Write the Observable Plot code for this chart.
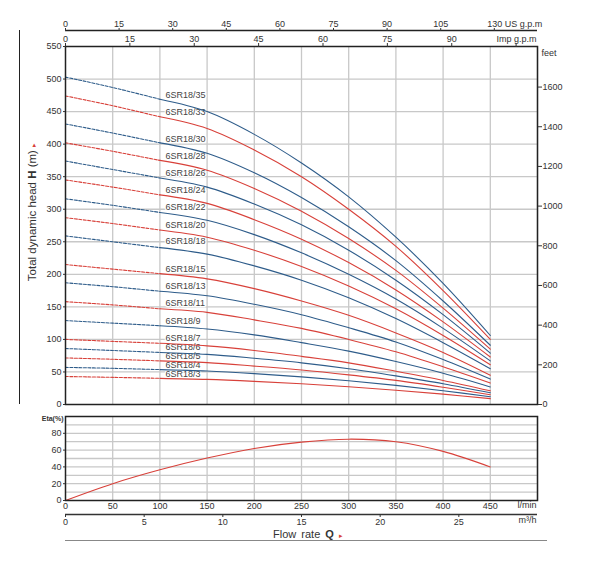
<!DOCTYPE html>
<html><head><meta charset="utf-8">
<script src="https://cdn.jsdelivr.net/npm/d3@7"></script>
<script src="https://cdn.jsdelivr.net/npm/@observablehq/plot@0.6"></script>
<style>
body{margin:0;background:#fff;font-family:"Liberation Sans",Arial,sans-serif;}
#wrap{position:relative;width:597px;height:566px;overflow:hidden;background:#fff;}
#wrap > .p{position:absolute;left:0;top:0;}
#ylab{position:absolute;left:32px;top:212px;transform:translate(-50%,-50%) rotate(-90deg);white-space:nowrap;font-size:11.5px;color:#333;}
#xlab{position:absolute;left:308px;top:534px;transform:translate(-50%,-50%);white-space:nowrap;font-size:11px;color:#333;word-spacing:2px;}
.tri{color:#d8413a;font-size:7px;}
#vline{position:absolute;left:19px;top:30px;height:374px;border-left:1.5px solid #222;}
#hline{position:absolute;left:65px;top:540px;width:482px;border-top:1.5px solid #888;}
</style></head><body><div id="wrap">
<div id="vline"></div><div id="hline"></div>
<div id="ylab">Total dynamic head <b>H</b> (m) <span class="tri">&#9656;</span></div>
<div id="xlab">Flow rate <b>Q</b> <span class="tri">&#9656;</span></div>
</div>
<script>
// ---- data ----
const flowLmin = [0, 50, 100, 150, 200, 250, 300, 350, 400, 450];
const models = ["6SR18/35","6SR18/33","6SR18/30","6SR18/28","6SR18/26","6SR18/24","6SR18/22","6SR18/20","6SR18/18","6SR18/15","6SR18/13","6SR18/11","6SR18/9","6SR18/7","6SR18/6","6SR18/5","6SR18/4","6SR18/3"];
const h35 = [503, 487, 469, 450, 415, 371, 319, 257, 186, 106];
const h33 = [474, 459, 442, 424, 391, 350, 300, 243, 175, 100];
const h30 = [431, 417, 402, 386, 356, 318, 273, 221, 159, 91];
const h28 = [402, 389, 375, 360, 332, 297, 255, 206, 148, 85];
const h26 = [374, 361, 348, 334, 308, 276, 237, 191, 138, 79];
const h24 = [345, 334, 322, 309, 284, 254, 218, 176, 127, 73];
const h22 = [316, 306, 295, 283, 261, 233, 200, 162, 117, 67];
const h20 = [287, 278, 268, 257, 237, 212, 182, 147, 106, 61];
const h18 = [259, 250, 241, 231, 213, 191, 164, 132, 95, 55];
const h15 = [215, 208, 201, 193, 178, 159, 137, 110, 80, 45];
const h13 = [187, 181, 174, 167, 154, 138, 118, 96, 69, 39];
const h11 = [158, 153, 147, 141.5, 130, 117, 100, 81, 58, 33];
const h9  = [129, 125, 121, 116, 107, 95, 82, 66, 48, 27];
const h7  = [100, 97, 94, 90, 83, 74, 64, 51, 37, 21];
const h6  = [86, 83, 80, 77, 71, 64, 55, 44, 32, 18];
const h5  = [71.5, 69.5, 67, 64.3, 59, 53, 45.5, 37, 26.5, 15];
const h4  = [57, 55.6, 53.6, 51.4, 47.4, 42.4, 36.4, 29.4, 21.2, 12];
const h3  = [43, 41.7, 40.2, 38.6, 35.6, 31.8, 27.3, 22, 15.9, 9];
const heads = [h35,h33,h30,h28,h26,h24,h22,h20,h18,h15,h13,h11,h9,h7,h6,h5,h4,h3];
const curveColors = ["#2e5c8a","#d8413a"]; // alternating blue / red
const labelHeads = [475, 449, 407, 381, 355, 329, 303, 276, 251, 208, 182, 155, 128, 102, 88, 74, 60, 46];
const labelFlow = 106;
const dashEnd = 100;
const eta = [0, 20, 36.5, 50.5, 62, 69.5, 73, 70, 58.5, 40];

const gridQ = [50,100,150,200,250,300,350,400,450,500];
const gridH = [50,100,150,200,250,300,350,400,450,500];
const headTicks = [0,50,100,150,200,250,300,350,400,450,500,550];
const feetTicks = [0,200,400,600,800,1000,1200,1400,1600];
const usTicks = [0,15,30,45,60,75,90,105,120];
const usLabels = ["0","15","30","45","60","75","90","105",""];
const impTicks = [0,15,30,45,60,75,90,105];
const impLabels = ["0","15","30","45","60","75","90",""];
const flowTicks = [0,50,100,150,200,250,300,350,400,450];
const m3Ticks = [0,5,10,15,20,25];
const etaTicks = [0,20,40,60,80];
const etaGrid = [10,20,30,40,50,60,70,80,90];

// ---- conversions ----
const US = 3.78541, IMP = 4.54609, FT = 0.3048, M3 = 1000/60;

const rows = [];
models.forEach((m, i) => flowLmin.forEach((q, j) => rows.push({model: m, q, h: heads[i][j], color: curveColors[i % 2]})));
const dashRows = rows.filter(d => d.q <= dashEnd);
const solidRows = rows.filter(d => d.q >= dashEnd);
const labelRows = models.map((m, i) => ({model: m, q: labelFlow, h: labelHeads[i]}));
const etaRows = flowLmin.map((q, i) => ({q, eta: eta[i]}));

const font = "Liberation Sans, Arial, sans-serif";
const style = {fontFamily: font, fontSize: "9px", color: "#333", background: "none", overflow: "visible"};
const common = {width: 597, marginLeft: 65, marginRight: 60, x: {domain: [0, 500], axis: null}, style};
const gridStyle = {stroke: "#c8c8c8", strokeOpacity: 1, strokeWidth: 1.3};
const lookup = (ticks, labels, k) => d => { const i = ticks.findIndex(v => Math.abs(v * k - d) < 1e-6); return i < 0 ? "" : labels[i]; };

const usPlot = Plot.plot({...common, height: 40, marginTop: 30, marginBottom: 10,
  y: {domain: [0, 1], axis: null},
  marks: [
    Plot.ruleY([1], {stroke: "#222", strokeWidth: 1.3}),
    Plot.axisX(usTicks.map(v => v * US), {anchor: "top", tickSize: 3, tickPadding: 1, tickFormat: lookup(usTicks, usLabels, US), label: null}),
    Plot.text(["130 US g.p.m"], {x: 120 * US, text: d => d, frameAnchor: "top", textAnchor: "start", lineAnchor: "bottom", dx: -7, dy: -4})
  ]});

const mainPlot = Plot.plot({...common, height: 412, marginTop: 46, marginBottom: 8,
  y: {domain: [0, 550], axis: null}, color: {type: "identity"},
  marks: [
    Plot.gridX(gridQ, gridStyle),
    Plot.gridY(gridH, gridStyle),
    Plot.text(labelRows, {x: "q", y: "h", text: "model", textAnchor: "start", fill: "#444", stroke: "white", strokeWidth: 2.5, fontSize: 9}),
    Plot.line(dashRows, {x: "q", y: "h", z: "model", stroke: "color", strokeWidth: 1.1, strokeDasharray: "3,1.5", curve: "catmull-rom"}),
    Plot.line(solidRows, {x: "q", y: "h", z: "model", stroke: "color", strokeWidth: 1.1, curve: "catmull-rom"}),
    Plot.frame({stroke: "#222", strokeWidth: 1.5}),
    Plot.axisY(headTicks, {anchor: "left", tickSize: 2, tickPadding: 2, label: null}),
    Plot.axisY(feetTicks.map(f => f * FT), {anchor: "right", tickSize: 4, tickPadding: 1, tickFormat: d => String(Math.round(d / FT)), label: null}),
    Plot.axisX(impTicks.map(v => v * IMP), {anchor: "top", tickSize: 4, tickPadding: 1, tickFormat: lookup(impTicks, impLabels, IMP), label: null}),
    Plot.text(["Imp g.p.m"], {text: d => d, frameAnchor: "top-right", textAnchor: "end", lineAnchor: "bottom", dx: -1, dy: -5}),
    Plot.text(["feet"], {text: d => d, frameAnchor: "top-right", textAnchor: "start", dx: 4, dy: 3})
  ]});

const etaPlot = Plot.plot({...common, height: 566, marginTop: 416, marginBottom: 66,
  y: {domain: [0, 100], axis: null},
  marks: [
    Plot.gridX(gridQ, gridStyle),
    Plot.gridY(etaGrid, gridStyle),
    Plot.line(etaRows, {x: "q", y: "eta", stroke: "#d8413a", strokeWidth: 1.1, curve: "catmull-rom"}),
    Plot.frame({stroke: "#222", strokeWidth: 1.5}),
    Plot.axisY(etaTicks, {anchor: "left", tickSize: 2, tickPadding: 2, label: null}),
    Plot.axisX(flowTicks, {anchor: "bottom", tickSize: 0, tickPadding: 2, label: null}),
    Plot.text(["l/min"], {text: d => d, frameAnchor: "bottom-right", textAnchor: "end", dx: -1, dy: 7}),
    Plot.text(["Eta(%)"], {text: d => d, frameAnchor: "top-left", textAnchor: "end", dx: -2, fontSize: 7, fontWeight: "bold"})
  ]});

const m3Plot = Plot.plot({...common, height: 566, marginTop: 500, marginBottom: 52,
  y: {domain: [0, 1], axis: null},
  marks: [
    Plot.ruleY([0], {stroke: "#333", strokeWidth: 1.3}),
    Plot.axisX(m3Ticks.map(v => v * M3), {anchor: "bottom", tickSize: 3, tickPadding: 1, tickFormat: d => String(Math.round(d / M3)), label: null}),
    Plot.text(["m³/h"], {text: d => d, frameAnchor: "bottom-right", textAnchor: "end", dx: -1, dy: 8})
  ]});

const wrap = document.getElementById("wrap");
[usPlot, mainPlot, etaPlot, m3Plot].forEach(p => { p.classList.add("p"); wrap.appendChild(p); });
</script></body></html>
